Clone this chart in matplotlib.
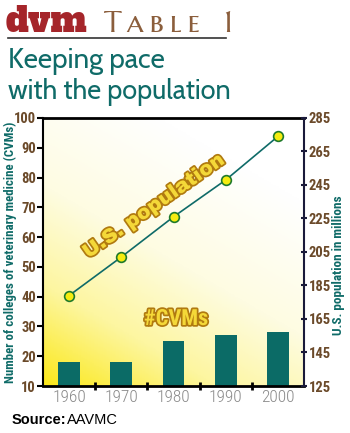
import numpy as np
import matplotlib
matplotlib.use("Agg")
import matplotlib.pyplot as plt
import matplotlib.patheffects as pe
from matplotlib.colors import LinearSegmentedColormap

years = ["1960", "1970", "1980", "1990", "2000"]
cvms = [18, 18, 25, 27, 28]
population = [179, 202, 226, 248, 274]
left_ticks = [10, 20, 30, 40, 50, 60, 70, 80, 90, 100]
right_ticks = [125, 145, 165, 185, 205, 225, 245, 265, 285]

W, H = 350, 433
fig = plt.figure(figsize=(W / 100, H / 100), dpi=100)
fig.patch.set_facecolor("white")

teal = "#0f6b68"
brown = "#6b4a2a"
narrow = ["Roboto Condensed", "DejaVu Sans"]

ax = fig.add_axes([43 / W, 1 - 386 / H, (304 - 43) / W, (386 - 118) / H])
x = np.arange(len(years))
ax.set_xlim(-0.5, len(years) - 0.5)
ax.set_ylim(10, 100)

# gradient background: yellow bottom-left to white top-right
gx, gy = np.meshgrid(np.linspace(0, 1, 200), np.linspace(0, 1, 200))
g = np.clip(0.45 * gx + 0.8 * gy, 0, 1)
cmap = LinearSegmentedColormap.from_list(
    "yw", [(0, "#fbe81a"), (0.3, "#fdf6a0"), (0.6, "#fefce2"), (1, "#ffffff")])
ax.imshow(g, extent=(-0.5, len(years) - 0.5, 10, 100), origin="lower",
          aspect="auto", cmap=cmap, vmin=0, vmax=1, zorder=0)

ax.bar(x, np.array(cvms) - 10, bottom=10, width=0.42, color="#0b6b66", zorder=2)

ax.set_xticks(x)
ax.set_xticklabels(years, fontsize=12.5, color="#8a8a8a", family=narrow, fontweight="light")
ax.set_xticks(np.arange(0.5, len(years) - 1, 1), minor=True)
ax.tick_params(axis="x", which="major", length=0, pad=3)
ax.tick_params(axis="x", which="minor", length=6, width=2, direction="inout", color="black")
ax.set_yticks(left_ticks)
ax.set_yticklabels([str(t) for t in left_ticks], fontsize=10.5, color=brown,
                   family=narrow, fontweight="bold")
ax.tick_params(axis="y", length=4, width=1.5, color="black", pad=1)
for s in ["top", "bottom"]:
    ax.spines[s].set_linewidth(2)
ax.spines["left"].set_linewidth(1.5)
ax.spines["right"].set_visible(False)
ax.set_ylabel("Number of colleges of veterinary medicine (CVMs)", fontsize=9.3,
              color=teal, fontweight="bold", family=narrow)
ax.yaxis.set_label_coords(-0.098, 0.5)

ax2 = ax.twinx()
ax2.set_ylim(125, 285)
ax2.plot(x, population, color=teal, lw=1.2, marker="o", ms=7,
         mfc="#f5ec10", mec="#1f7a2a", mew=1.2, zorder=3)
ax2.set_yticks(right_ticks)
ax2.set_yticklabels([str(t) for t in right_ticks], fontsize=10.5, color=brown,
                    family=narrow, fontweight="bold")
ax2.tick_params(axis="y", length=5, width=1.5, color="#1a1a3a", direction="inout", pad=1)
ax2.spines["right"].set_linewidth(1.5)
ax2.spines["right"].set_color("#1a1a3a")
for s in ["top", "bottom", "left"]:
    ax2.spines[s].set_visible(False)
ax2.set_ylabel("U.S. population in millions", fontsize=9.5, color=teal,
               fontweight="bold", family=narrow)
ax2.yaxis.set_label_coords(1.108, 0.45)

outline = [pe.withStroke(linewidth=2.5, foreground="#b07a10")]
fig.text(154 / W, 1 - 206 / H, "U.S. population", rotation=35, ha="center", va="center",
         fontsize=14.5, color="#f4d838", family=["Archivo Black", "DejaVu Sans"],
         path_effects=outline)
fig.text(176 / W, 1 - 319 / H, "#CVMs", ha="center", va="center",
         fontsize=16, fontweight="bold", color="#f4d838", family=narrow,
         path_effects=outline)

# header
fig.text(6 / W, 1 - 32 / H, "dvm", fontsize=25, color="#a5252a",
         family=["Alfa Slab One", "DejaVu Serif"], va="baseline")
fig.text(103 / W, 1 - 32 / H, "T\u2009a\u2009b\u2009l\u2009e\u2002 1", fontsize=21.5,
         color="#8b5e3c", family=["Marcellus SC", "DejaVu Serif"], va="baseline")
fig.add_artist(plt.Line2D([8 / W, 226 / W], [1 - 37.5 / H, 1 - 37.5 / H],
                          color="#333333", lw=1.2))
fig.text(8 / W, 1 - 68 / H, "Keeping pace", fontsize=20, color=teal,
         family=["Cabin", "DejaVu Sans"], fontweight="medium", va="baseline")
fig.text(8 / W, 1 - 99 / H, "with the population", fontsize=19.5, color=teal,
         family=["Cabin", "DejaVu Sans"], fontweight="medium", va="baseline")

fig.text(12 / W, 1 - 424 / H, "Source:", fontsize=10.5, fontweight="bold",
         color="black", family=["Liberation Sans"], va="baseline")
fig.text(67 / W, 1 - 424 / H, "AAVMC", fontsize=10.5, color="black",
         family=["Liberation Sans"], va="baseline")

fig.savefig("out.png", dpi=100)
